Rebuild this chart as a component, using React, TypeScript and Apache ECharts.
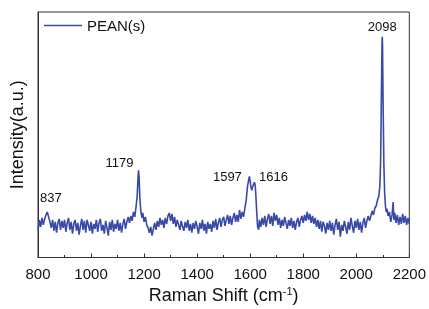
import React, { useEffect, useRef } from "react";
import * as echarts from "echarts";

const seriesName = "PEAN(s)";
const xTicks = { min: 800, max: 2200, interval: 200 };

const spectrum: [number, number][] = [
  [800, 27], [805, 38], [810, 31], [815, 40], [820, 33], [825, 39], [830, 43], [835, 46], [840, 41], [845, 36],
  [850, 30], [855, 38], [860, 27], [865, 36], [870, 25], [875, 35], [880, 39], [885, 28], [890, 37], [895, 30],
  [900, 38], [905, 26], [910, 35], [915, 40], [920, 28], [925, 36], [930, 24], [935, 34], [940, 38], [945, 27],
  [950, 35], [955, 23], [960, 32], [965, 39], [970, 28], [975, 37], [980, 25], [985, 38], [990, 33], [995, 27],
  [1000, 36], [1005, 24], [1010, 34], [1015, 29], [1020, 38], [1025, 26], [1030, 35], [1035, 39], [1040, 27], [1045, 33],
  [1050, 24], [1055, 37], [1060, 30], [1065, 22], [1070, 36], [1075, 28], [1080, 38], [1085, 26], [1090, 34], [1095, 29],
  [1100, 38], [1105, 27], [1110, 35], [1115, 25], [1120, 34], [1125, 39], [1130, 29], [1135, 36], [1140, 41], [1145, 35],
  [1150, 42], [1155, 37], [1160, 46], [1165, 41], [1170, 52], [1174, 62], [1177, 80], [1179, 88], [1181, 82], [1184, 60],
  [1188, 46], [1192, 40], [1195, 45],
  [1200, 36], [1205, 41], [1210, 33], [1215, 30], [1220, 25], [1225, 31], [1230, 22], [1235, 29], [1240, 35], [1245, 28],
  [1250, 37], [1255, 31], [1260, 40], [1265, 33], [1270, 38], [1275, 30], [1280, 40], [1285, 34], [1290, 42], [1295, 45],
  [1300, 37], [1305, 44], [1310, 34], [1315, 41], [1320, 31], [1325, 38], [1330, 33], [1335, 28], [1340, 37], [1345, 31],
  [1350, 27], [1355, 36], [1360, 30], [1365, 38], [1370, 27], [1375, 34], [1380, 25], [1385, 35], [1390, 29], [1395, 37],
  [1400, 31], [1405, 24], [1410, 35], [1415, 29], [1420, 38], [1425, 27], [1430, 34], [1435, 24], [1440, 36], [1445, 29],
  [1450, 34], [1455, 26], [1460, 37], [1465, 30], [1470, 39], [1475, 28], [1480, 35], [1485, 40], [1490, 31], [1495, 38],
  [1500, 41], [1505, 32], [1510, 38], [1515, 43], [1520, 34], [1525, 42], [1530, 33], [1535, 40], [1540, 45], [1545, 36],
  [1550, 43], [1555, 36], [1560, 48], [1565, 39], [1570, 46], [1575, 41], [1580, 50], [1585, 58], [1590, 72], [1594, 78],
  [1597, 82], [1600, 77], [1603, 71], [1606, 68], [1609, 71], [1613, 74], [1616, 76], [1619, 73], [1622, 60], [1625, 44],
  [1628, 31], [1632, 28], [1635, 38], [1640, 31], [1645, 40],
  [1650, 33], [1655, 42], [1660, 31], [1665, 39], [1670, 44], [1675, 34], [1680, 42], [1685, 32], [1690, 45], [1695, 37],
  [1700, 43], [1705, 33], [1710, 40], [1715, 30], [1720, 38], [1725, 32], [1730, 41], [1735, 35], [1740, 29], [1745, 38],
  [1750, 32], [1755, 40], [1760, 30], [1765, 37], [1770, 28], [1775, 36], [1780, 40], [1785, 31], [1790, 38], [1795, 42],
  [1800, 35], [1805, 43], [1810, 37], [1815, 46], [1820, 38], [1825, 44], [1830, 35], [1835, 42], [1840, 34], [1845, 40],
  [1850, 31], [1855, 38], [1860, 29], [1865, 37], [1870, 26], [1875, 36], [1880, 32], [1885, 24], [1890, 35], [1895, 28],
  [1900, 37], [1905, 27], [1910, 35], [1915, 23], [1920, 33], [1925, 39], [1930, 28], [1935, 36], [1940, 21], [1945, 33],
  [1950, 27], [1955, 37], [1960, 31], [1965, 24], [1970, 36], [1975, 28], [1980, 40], [1985, 32], [1990, 25], [1995, 37],
  [2000, 30], [2005, 39], [2010, 28], [2015, 36], [2020, 25], [2025, 35], [2030, 40], [2035, 30], [2040, 37], [2045, 42],
  [2050, 37], [2055, 42], [2060, 47], [2065, 43], [2070, 50], [2075, 52], [2080, 58], [2085, 62], [2089, 72], [2092, 100],
  [2095, 170], [2097, 215], [2098, 223], [2099, 215], [2101, 160], [2104, 95], [2107, 65], [2110, 52],
  [2113, 46], [2116, 49], [2120, 42], [2125, 46], [2130, 36], [2135, 43], [2139, 56], [2142, 38], [2145, 45],
  [2150, 35], [2155, 43], [2160, 33], [2165, 41], [2170, 34], [2175, 44], [2180, 35], [2185, 42], [2190, 33], [2195, 40], [2200, 34],
];

const peakShifts = [837, 1179, 1597, 1616, 2098];
const peakHeights = [43, 88, 82, 76, 223];
const peakLabelOffsets: [number, number][] = [[3, -17], [-19, -8], [-22, 0], [19, -6], [0, -10]];

const FONT = "'Liberation Sans', Arial, sans-serif";
const LINE = "#3949a8";

export default function App() {
  const ref = useRef<HTMLDivElement>(null);
  useEffect(() => {
    if (!ref.current) return;
    const chart = echarts.init(ref.current, undefined, { renderer: "svg" });
    chart.setOption({
      animation: false,
      textStyle: { fontFamily: FONT },
      grid: { left: 38, right: 19, top: 12, bottom: 49, show: true, borderColor: "#333", borderWidth: 1 },
      legend: {
        left: 44,
        top: 18,
        padding: 0,
        icon: "rect",
        itemWidth: 38,
        itemHeight: 1.6,
        itemGap: 5,
        textStyle: { fontSize: 15, color: "#111", fontFamily: FONT },
        data: [seriesName],
      },
      xAxis: {
        type: "value",
        min: xTicks.min,
        max: xTicks.max,
        interval: xTicks.interval,
        name: "{a|Raman Shift (cm}{s|-1}{a|)}",
        nameLocation: "middle",
        nameGap: 28,
        nameTextStyle: {
          rich: {
            a: { fontSize: 18, color: "#111", fontFamily: FONT },
            s: { fontSize: 11, color: "#111", fontFamily: FONT, verticalAlign: "top", padding: [0, 0, 8, 0] },
          },
        },
        axisLine: { lineStyle: { color: "#333", width: 1 } },
        axisTick: { inside: true, length: 4, lineStyle: { color: "#333" } },
        minorTick: { show: true, splitNumber: 2, length: 2.5, lineStyle: { color: "#333" } },
        axisLabel: { fontSize: 15, color: "#111", margin: 8, fontFamily: FONT, formatter: (v: number) => String(v) },
        splitLine: { show: false },
      },
      yAxis: {
        type: "value",
        min: 0,
        max: 248,
        name: "Intensity(a.u.)",
        nameLocation: "middle",
        nameGap: 12,
        nameTextStyle: { fontSize: 18, color: "#111", fontFamily: FONT },
        axisLine: { show: true, lineStyle: { color: "#333", width: 1 } },
        axisTick: { show: false },
        axisLabel: { show: false },
        splitLine: { show: false },
      },
      series: [
        {
          name: seriesName,
          type: "line",
          data: spectrum,
          symbol: "none",
          lineStyle: { color: LINE, width: 1.6 },
          itemStyle: { color: LINE },
          markPoint: {
            symbol: "circle",
            symbolSize: 0,
            data: peakShifts.map((s, i) => ({
              coord: [s, peakHeights[i]],
              value: s,
              label: {
                show: true,
                position: "inside",
                offset: peakLabelOffsets[i],
                formatter: String(s),
                fontSize: 13,
                color: "#111",
                fontFamily: FONT,
              },
            })),
          },
        },
      ],
    });
    return () => chart.dispose();
  }, []);
  return <div ref={ref} style={{ position: "fixed", left: 0, top: 0, width: 429, height: 309 }} />;
}
